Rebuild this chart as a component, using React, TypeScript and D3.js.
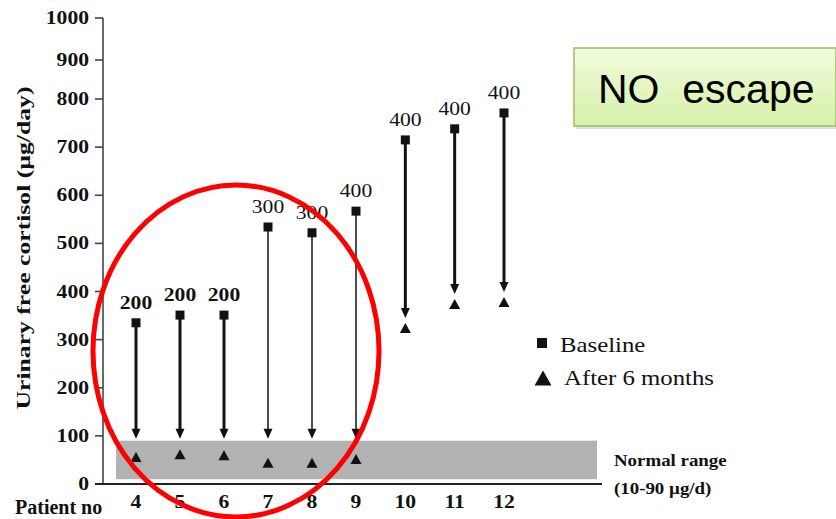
import React from "react";
import * as d3 from "d3";

// Patient numbers and urinary free cortisol (µg/day)
const patients = [4, 5, 6, 7, 8, 9, 10, 11, 12];
const baselineUFC = [335, 351, 351, 534, 522, 567, 715, 738, 771];
const after6MonthsUFC = [56, 62, 60, 44, 44, 52, 324, 374, 378];
const doseLabels = ["200", "200", "200", "300", "300", "400", "400", "400", "400"];
const yTicks = [0, 100, 200, 300, 400, 500, 600, 700, 800, 900, 1000];
const normalRange = [10, 90];
const thinStemPatients = [7, 8, 9];

const W = 836;
const H = 519;
const SERIF = "'Liberation Serif', 'Times New Roman', serif";
const SANS = "'Liberation Sans', Arial, sans-serif";

// scanned axes are slightly uneven, so the scales are piecewise linear
const x = d3.scaleLinear().domain([4, 9, 12]).range([136, 356, 504]);
const y = d3.scaleLinear().domain([0, 800, 900, 1000]).range([484, 99, 60, 18]);

const axisX = 103;
const axisY = y(0);

function SText(props: {
  x: number;
  y: number;
  size: number;
  sx?: number;
  anchor?: "start" | "middle" | "end";
  weight?: string | number;
  family?: string;
  children: React.ReactNode;
}) {
  const { sx = 1.2, anchor = "start", weight = "normal", family = SERIF } = props;
  return (
    <text
      transform={`translate(${props.x},${props.y}) scale(${sx},1)`}
      fontSize={props.size}
      fontFamily={family}
      fontWeight={weight}
      textAnchor={anchor}
      fill="#111"
    >
      {props.children}
    </text>
  );
}

export default function App() {
  const bandTop = y(normalRange[1]);
  const bandBottom = y(normalRange[0]);
  const triPath = (cx: number, cy: number, w: number, h: number) =>
    `M${cx - w / 2},${cy + h / 2}L${cx + w / 2},${cy + h / 2}L${cx},${cy - h / 2}Z`;

  return (
    <svg
      width={W}
      height={H}
      style={{ position: "absolute", left: 0, top: 0, background: "#fff" }}
    >
      <defs>
        <linearGradient id="boxFill" x1="0" y1="0" x2="0" y2="1">
          <stop offset="0" stopColor="#f1fcdc" />
          <stop offset="1" stopColor="#d6f0a8" />
        </linearGradient>
      </defs>

      {/* normal range band */}
      <rect
        x={116}
        y={bandTop}
        width={597 - 116}
        height={bandBottom - bandTop}
        fill="#b2b2b2"
      />

      {/* y axis */}
      <line x1={axisX} x2={axisX} y1={y(1000)} y2={axisY} stroke="#444" strokeWidth={1.6} />
      {yTicks.map((t) => (
        <g key={t}>
          <line x1={95} x2={axisX} y1={y(t)} y2={y(t)} stroke="#444" strokeWidth={1.6} />
          <SText x={89} y={y(t) + 6} size={18} anchor="end" weight="bold">
            {t}
          </SText>
        </g>
      ))}

      {/* x axis */}
      <line x1={95} x2={602} y1={axisY} y2={axisY} stroke="#222" strokeWidth={2} />
      {patients.map((p) => (
        <SText key={p} x={x(p)} y={508} size={18} anchor="middle" weight="bold">
          {p}
        </SText>
      ))}
      <SText x={15} y={514} size={20} sx={1} weight="bold">
        Patient no
      </SText>

      {/* y axis title */}
      <text
        transform="translate(30,248) rotate(-90)"
        fontSize={19}
        fontFamily={SERIF}
        fontWeight="bold"
        textAnchor="middle"
        textLength={323}
        lengthAdjust="spacingAndGlyphs"
        fill="#111"
      >
        Urinary free cortisol (µg/day)
      </text>

      {/* baseline → 6 months arrows */}
      {patients.map((p, i) => {
        const cx = x(p);
        const y0 = y(baselineUFC[i]);
        const y1 = y(after6MonthsUFC[i]);
        const tip = Math.min(y1 - 10, bandTop - 2);
        const thin = thinStemPatients.includes(p);
        return (
          <g key={p}>
            <line
              x1={cx}
              x2={cx}
              y1={y0}
              y2={tip - 6}
              stroke="#111"
              strokeWidth={thin ? 1.5 : 3}
            />
            <path
              d={`M${cx - 4.5},${tip - 10}L${cx + 4.5},${tip - 10}L${cx},${tip}Z`}
              fill="#111"
            />
            <rect x={cx - 4.5} y={y0 - 4.5} width={9} height={9} fill="#111" />
            <path d={triPath(cx, y1, 11, 10)} fill="#111" />
            <SText
              x={cx}
              y={y0 - 14}
              size={18}
              anchor="middle"
              weight={p <= 6 ? "bold" : "normal"}
            >
              {doseLabels[i]}
            </SText>
          </g>
        );
      })}

      {/* legend */}
      <rect x={537} y={338} width={10} height={10} fill="#111" />
      <SText x={560} y={352} size={21} sx={1.18}>
        Baseline
      </SText>
      <path d={triPath(543, 378, 17, 15)} fill="#111" />
      <SText x={564} y={385} size={21} sx={1.18}>
        After 6 months
      </SText>

      {/* normal range note */}
      <SText x={614} y={466} size={16} weight="bold" sx={1.18}>
        Normal range
      </SText>
      <SText x={614} y={494} size={16} weight="bold" sx={1.18}>
        (10-90 µg/d)
      </SText>

      {/* callout box */}
      <rect x={576} y={51} width={262} height={78} fill="#c8c8c8" opacity={0.6} />
      <rect
        x={574}
        y={48}
        width={262}
        height={78}
        fill="url(#boxFill)"
        stroke="#9cbc5e"
        strokeWidth={1.5}
      />
      <text
        x={598}
        y={103}
        fontSize={41}
        fontFamily={SANS}
        fill="#000"
        style={{ whiteSpace: "pre" }}
      >
        NO  escape
      </text>

      {/* highlight ellipse */}
      <ellipse cx={236} cy={351} rx={143} ry={166} fill="none" stroke="#ff0000" strokeWidth={5} />
    </svg>
  );
}
